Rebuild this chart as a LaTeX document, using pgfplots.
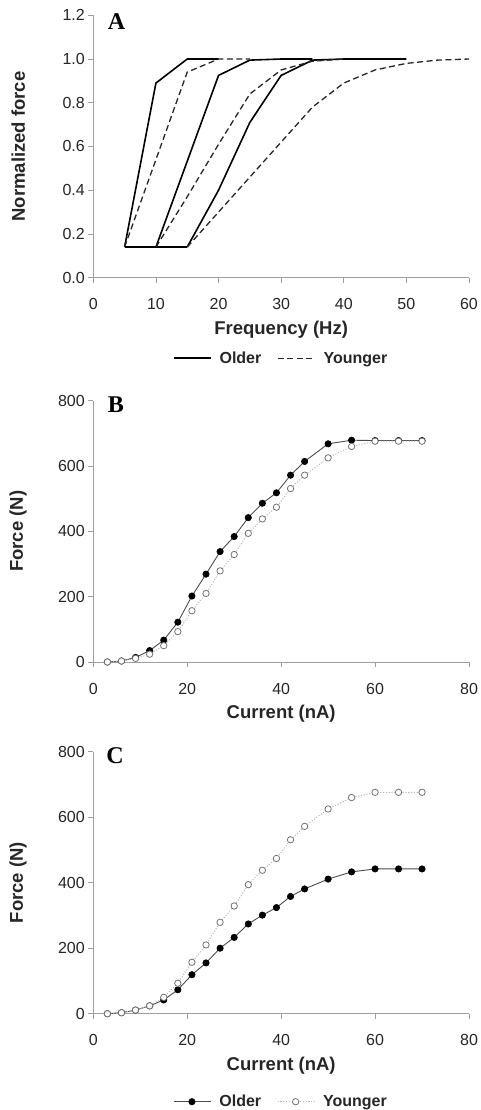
\documentclass[border=0pt]{standalone}
\usepackage{pgfplots}
\pgfplotsset{compat=1.18}
\usepackage{fontspec}
\setmainfont{Liberation Sans}
\newfontfamily\letterfont{Liberation Serif}

\pgfplotsset{
  myaxis/.style={
    scale only axis, anchor=south west, width=375.7pt,
    axis x line=bottom, axis y line=left,
    axis line style={-, draw=gray!75, line width=0.8pt},
    tick style={draw=gray!75, line width=0.8pt},
    tick align=outside, major tick length=5pt,
    enlargelimits=false, clip=false,
    xmin=0, ymin=0,
    tick label style={font=\fontsize{16}{18}\selectfont, text=black!85},
    /pgf/number format/assume math mode=true,
    xticklabel style={anchor=center, yshift=-21.6pt},
    yticklabel style={anchor=east},
    label style={font=\fontsize{18.5}{20}\selectfont\bfseries, text=black!85},
    xlabel style={at={(axis description cs:0.5,-0.198)}, anchor=center},
    ylabel style={at={(axis description cs:-0.2,0.5)}, anchor=center},
    legend style={draw=none, fill=none, legend columns=2,
      font=\fontsize{16}{18}\selectfont\bfseries, text=black!85,
      anchor=center,
      /tikz/every odd column/.append style={column sep=6pt},
      /tikz/every even column/.append style={column sep=14pt}},
    legend image code/.code={\draw[mark repeat=2,mark phase=2,#1] plot coordinates {(0pt,0pt) (18pt,0pt) (37pt,0pt)};},
  },
  oldA/.style={black, line width=1.6pt},
  youngA/.style={black!85, line width=1.3pt, dash pattern=on 6pt off 3.5pt},
  oldB/.style={black!70, line width=0.9pt, mark=*, mark size=3.2pt, mark options={solid, fill=black, draw=black, line width=0.6pt}},
  youngB/.style={gray!55, line width=0.9pt, dash pattern=on 1.2pt off 1.6pt, mark=*, mark size=3.2pt, mark options={solid, fill=white, draw=gray!90!black, line width=0.8pt}},
}

\pgfplotstableread{
x older younger olderC
3 0 0 0
6 3 3 3
9 14 11 11
12 35 24 24
15 67 50 42
18 122 93 73
21 202 157 119
24 269 210 155
27 338 279 200
30 384 329 233
33 442 394 274
36 486 438 301
39 518 474 324
42 572 531 358
45 614 572 381
50 668 625 411
55 679 660 433
60 678 676 442
65 678 676 442
70 678 676 442
}\forcedata

\begin{document}
\begin{tikzpicture}
\path[use as bounding box] (0,0) rectangle (480pt,1110pt);

% Panel A
\begin{axis}[myaxis, at={(93.3pt,832.3pt)}, height=262.4pt,
  xmax=60, ymax=1.2, xtick={0,10,...,60}, ytick={0,0.2,...,1.2},
  yticklabel style={/pgf/number format/.cd, fixed, fixed zerofill, precision=1},
  xlabel={Frequency (Hz)}, ylabel={Normalized force},
  legend style={at={(axis description cs:0.5,-0.307)}}]
\addplot[oldA] coordinates {(5,0.14) (10,0.89) (15,1.0) (20,1.0)};
\addlegendentry{Older}
\addplot[youngA] coordinates {(5,0.14) (10,0.54) (15,0.94) (20,1.0) (25,1.0)};
\addlegendentry{Younger}
\addplot[oldA, forget plot] coordinates {(10,0.14) (20,0.925) (25,0.995) (30,1.0) (35,1.0)};
\addplot[oldA, forget plot] coordinates {(15,0.14) (20,0.40) (25,0.71) (30,0.925) (35,0.995) (40,1.0) (45,1.0) (50,1.0)};
\addplot[oldA, forget plot] coordinates {(5,0.14) (10,0.14) (15,0.14)};
\addplot[youngA, forget plot] coordinates {(10,0.14) (15,0.37) (20,0.61) (25,0.84) (30,0.95) (35,0.99) (40,1.0)};
\addplot[youngA, forget plot] coordinates {(15,0.14) (20,0.30) (25,0.46) (30,0.62) (35,0.78) (40,0.89) (45,0.95) (50,0.98) (55,0.995) (60,1.0)};
\node[font=\letterfont\bfseries\fontsize{24}{24}\selectfont] at (rel axis cs:0.062,0.975) {A};
\end{axis}

% Panel B
\begin{axis}[myaxis, at={(93.3pt,448pt)}, height=261.3pt,
  xmax=80, ymax=800, xtick={0,20,...,80}, ytick={0,200,...,800},
  xlabel={Current (nA)}, ylabel={Force (N)}]
\addplot[oldB] table[x=x, y=older] {\forcedata};
\addplot[youngB] table[x=x, y=younger] {\forcedata};
\node[font=\letterfont\bfseries\fontsize{24}{24}\selectfont] at (rel axis cs:0.06,0.985) {B};
\end{axis}

% Panel C
\begin{axis}[myaxis, at={(93.3pt,96.3pt)}, height=262pt,
  xmax=80, ymax=800, xtick={0,20,...,80}, ytick={0,200,...,800},
  xlabel={Current (nA)}, ylabel={Force (N)},
  legend style={at={(axis description cs:0.5,-0.336)}}]
\addplot[oldB] table[x=x, y=olderC] {\forcedata};
\addlegendentry{Older}
\addplot[youngB] table[x=x, y=younger] {\forcedata};
\addlegendentry{Younger}
\node[font=\letterfont\bfseries\fontsize{24}{24}\selectfont] at (rel axis cs:0.058,0.985) {C};
\end{axis}
\end{tikzpicture}
\end{document}
